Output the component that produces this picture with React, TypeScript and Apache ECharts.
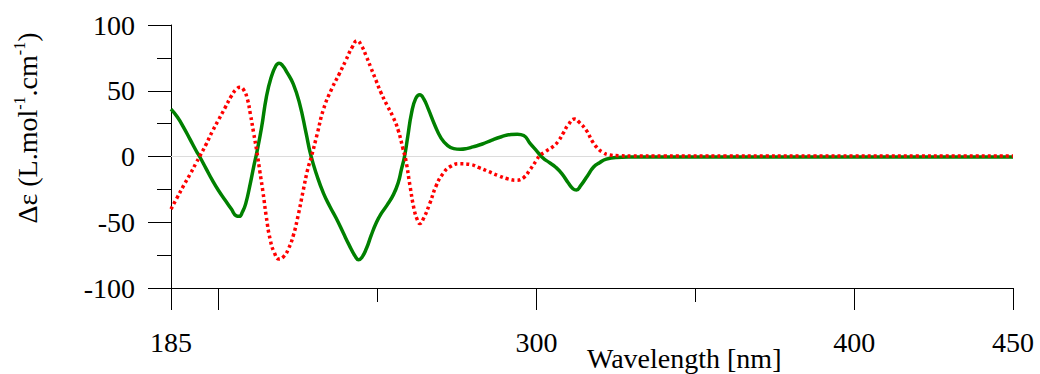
import React, { useEffect, useRef } from "react";
import * as echarts from "echarts";

const xTickMajor = [185, 200, 300, 400, 450];
const xTickMinor = [250, 350];
const xLabels = [185, 300, 400, 450];

const greenWl = [185, 187, 189, 191, 193, 194, 196, 198, 200, 202, 204, 205.5, 206.5, 207.5, 208.5, 210, 211, 212, 213.5, 215, 216.5, 218, 219, 220, 221.5, 223.5, 225.5, 227.5, 229, 231, 233, 235, 237, 239.2, 241, 243, 244, 245, 246.5, 248, 249.5, 251, 253, 255, 256.5, 257.5, 258.5, 259.5, 260.7, 262, 263.3, 264.5, 266, 268, 270, 272, 274, 276, 278, 280, 283, 286, 289, 292, 294, 296, 298, 300, 302, 304, 306, 308, 310, 311.5, 312.6, 314, 316, 318, 320, 322, 325, 330, 340, 360, 400, 450];
const greenDe = [36, 30, 22, 13, 4, 0, -9, -18, -26, -33, -40, -45, -45.5, -42, -36, -20, -8, 3, 22, 45, 60, 69, 71, 69.5, 64, 55, 40, 18, 1, -15, -28, -38, -47, -58, -67, -76, -78.5, -77, -70, -60, -51, -44, -37, -29, -20, -10, 0, 15, 33, 44, 47, 44, 36, 24, 14, 8.5, 6, 5.5, 6, 7.3, 9.5, 12.5, 15, 16.8, 17, 16, 10, 4.5, -1, -4.5, -8, -13, -20, -24.5, -25.5, -22, -15, -8, -4.5, -2, -0.7, -0.4, -0.3, -0.3, -0.3, -0.3];

const redWl = [185, 187, 189, 191, 193, 194, 196, 198, 200, 202, 204, 205.5, 206.7, 207.8, 209, 210, 211, 212, 213, 214, 215, 216.2, 217.5, 219, 220.5, 222, 223.5, 225, 226.6, 228, 229.2, 231, 233, 235.5, 238, 240, 242, 243.6, 245, 246.5, 248, 249.5, 251, 253, 255, 256.5, 258, 259, 260.2, 261.5, 262.5, 263.3, 264.5, 266.4, 268.5, 270.6, 273, 276, 279, 282, 285, 288, 291, 293.7, 296, 298, 300, 301, 303, 305.2, 307, 308.5, 310, 312, 313.5, 315.7, 317.5, 319, 321, 323, 326, 330, 340, 360, 400, 450];
const redDe = [-40, -31, -22, -13.5, -4.5, 0, 9, 19, 28, 37, 46, 51, 52.6, 51, 44, 32, 18, 4, -12, -28, -46, -63, -73, -78, -76, -70, -60, -45, -26, -10, 0, 17, 36, 51, 63, 73, 83, 88, 84, 76, 67, 58, 49, 39, 29.5, 20, 6, -4, -22, -40, -48, -51, -47, -36, -22, -13, -7.5, -5.5, -6, -8.5, -11.5, -14.5, -17, -18, -16, -10, -3, 0.5, 4, 7.5, 12, 18, 24, 28.5, 26, 20, 12, 7, 3, 1.2, 0.6, 0.4, 0.3, 0.3, 0.3, 0.3];

// y-axis title pieces: [text, isSuperscript]
const yTitleParts: [string, boolean][] = [
  ["Δε (L.mol", false],
  ["-1", true],
  [".cm", false],
  ["-1", true],
  [")", false],
];

const FONT = "Liberation Serif";
const MAIN_SIZE = 28;
const SUP_SIZE = 16;

function measure(text: string, size: number): number {
  const c = document.createElement("canvas").getContext("2d");
  if (!c) return text.length * size * 0.5;
  c.font = `${size}px ${FONT}`;
  return c.measureText(text).width;
}

export default function App() {
  const ref = useRef<HTMLDivElement>(null);
  useEffect(() => {
    if (!ref.current) return;
    const chart = echarts.init(ref.current, null, { renderer: "svg" });
    const green = greenWl.map((w, i) => [w, greenDe[i]]);
    const red = redWl.map((w, i) => [w, redDe[i]]);

    const widths = yTitleParts.map(([t, sup]) => measure(t, sup ? SUP_SIZE : MAIN_SIZE));
    const total = widths.reduce((a, b) => a + b, 0);
    let cursor = -total / 2;
    const titleChildren = yTitleParts.map(([t, sup], i) => {
      const el = {
        type: "text",
        x: cursor,
        y: sup ? -8 : 0,
        style: {
          text: t,
          fontSize: sup ? SUP_SIZE : MAIN_SIZE,
          fontFamily: FONT,
          fill: "#000",
          align: "left",
          verticalAlign: "middle",
        },
      };
      cursor += widths[i];
      return el;
    });

    chart.setOption({
      animation: false,
      backgroundColor: "#fff",
      textStyle: { fontFamily: FONT },
      grid: [
        { left: 171, right: 27, top: 25, bottom: 86 },
        { left: 171, right: 27, top: 25, bottom: 86 },
      ],
      xAxis: [
        {
          type: "value",
          gridIndex: 0,
          min: 185,
          max: 450,
          axisLine: { onZero: false, lineStyle: { color: "#000", width: 1 } },
          axisTick: { customValues: xTickMajor, length: 22, lineStyle: { color: "#000" } },
          axisLabel: { customValues: xLabels, margin: 40, color: "#000", fontSize: MAIN_SIZE, fontFamily: FONT },
          splitLine: { show: false },
        },
        {
          type: "value",
          gridIndex: 1,
          min: 185,
          max: 450,
          axisLine: { show: false, onZero: false },
          axisTick: { customValues: xTickMinor, length: 14, lineStyle: { color: "#000" } },
          axisLabel: { show: false },
          splitLine: { show: false },
        },
      ],
      yAxis: [
        {
          type: "value",
          gridIndex: 0,
          min: -100,
          max: 100,
          interval: 50,
          axisLine: { show: true, lineStyle: { color: "#000", width: 1 } },
          axisTick: { show: true, length: 23, lineStyle: { color: "#000" } },
          minorTick: { show: true, splitNumber: 2, length: 14, lineStyle: { color: "#000" } },
          axisLabel: { margin: 36, color: "#000", fontSize: MAIN_SIZE, fontFamily: FONT },
          splitLine: { show: false },
        },
        { type: "value", gridIndex: 1, min: -100, max: 100, show: false },
      ],
      graphic: [
        {
          type: "group",
          x: 27,
          y: 128,
          rotation: Math.PI / 2,
          children: titleChildren,
        },
        {
          type: "text",
          x: 587,
          y: 358,
          style: {
            text: "Wavelength [nm]",
            fontSize: MAIN_SIZE,
            fontFamily: FONT,
            fill: "#000",
            align: "left",
            verticalAlign: "middle",
          },
        },
      ],
      series: [
        {
          type: "line",
          xAxisIndex: 0,
          yAxisIndex: 0,
          data: green,
          showSymbol: false,
          smooth: 0.5,
          lineStyle: { color: "#008000", width: 3.5 },
          z: 3,
          markLine: {
            silent: true,
            symbol: ["none", "none"],
            label: { show: false },
            lineStyle: { color: "#dcdcdc", width: 1, type: "solid" },
            data: [{ yAxis: 0 }],
            z: 1,
          },
        },
        {
          type: "line",
          xAxisIndex: 0,
          yAxisIndex: 0,
          data: red,
          showSymbol: false,
          smooth: 0.5,
          lineStyle: { color: "#ff0000", width: 3.5, type: [3, 3] },
          z: 4,
        },
      ],
    });
    return () => chart.dispose();
  }, []);
  return (
    <div
      ref={ref}
      style={{ position: "fixed", left: 0, top: 0, width: 1040, height: 374, background: "#fff" }}
    />
  );
}
